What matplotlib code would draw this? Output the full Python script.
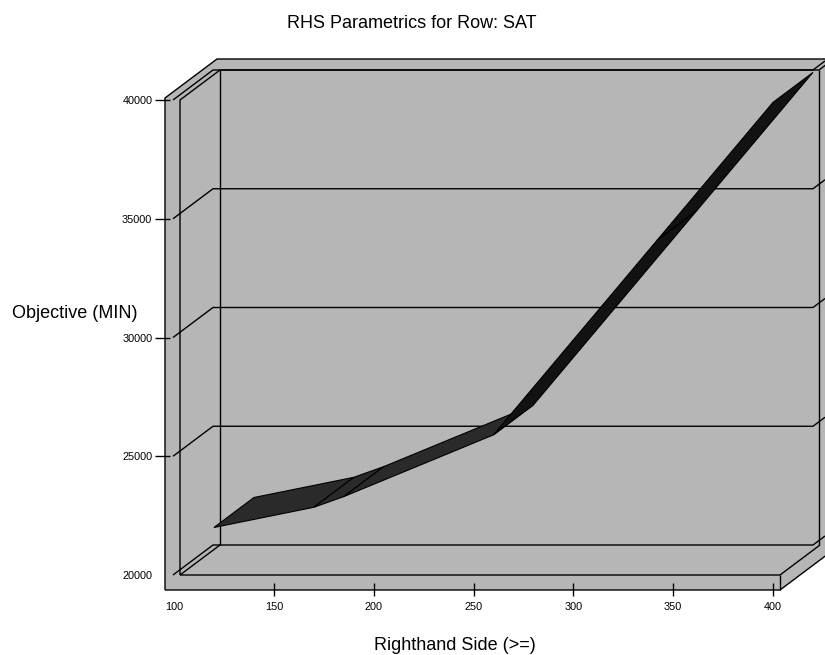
import matplotlib
matplotlib.use("Agg")
import matplotlib.pyplot as plt
from matplotlib.patches import Polygon

plt.rcParams['font.family'] = ['Liberation Sans', 'DejaVu Sans']

# breakpoints of the parametric run: right-hand side vs. objective value
rhs = [120, 170, 185, 260, 342, 400]
objective = [22000, 22850, 23300, 25900, 34100, 39900]

x_ticks = [100, 150, 200, 250, 300, 350, 400]
y_ticks = [20000, 25000, 30000, 35000, 40000]

title = "RHS Parametrics for Row: SAT"
x_label = "Righthand Side (>=)"
y_label = "Objective (MIN)"

wall = "#b6b6b6"
ribbon_flat = "#2a2a2a"
ribbon_steep = "#121212"

W, H = 825, 655
fig = plt.figure(figsize=(W / 100, H / 100), dpi=100)

# the axes box is the front plane of the 3-d frame (pixel edges)
left, right, top, bottom = 174, 773, 100, 575
ax = fig.add_axes([left / W, 1 - bottom / H, (right - left) / W, (bottom - top) / H])
x0, x1 = x_ticks[0], x_ticks[-1]
y0, y1 = y_ticks[0], y_ticks[-1]
ax.set_xlim(x0, x1)
ax.set_ylim(y0, y1)
ax.patch.set_visible(False)

# data units per pixel, and the screen offset of one unit of depth
ux = (x1 - x0) / (right - left)
uy = (y1 - y0) / (bottom - top)
DX, DY = 40 * ux, 30 * uy


def P(x, y, z=0.0, ox=0.0, oy=0.0):
    """3-d point -> data coords; ox/oy are extra pixel nudges."""
    return (x + z * DX + ox * ux, y + z * DY + oy * uy)


def seg(*pts, lw=1.0):
    xs, ys = zip(*pts)
    ax.plot(xs, ys, color="black", lw=lw, clip_on=False, zorder=2,
            solid_capstyle="butt")


# walls and floor
outline = [P(x0, y0, 0, -9, -15), P(x0, y1, 0, -9, 2), P(x0, y1, 1.3, -9, 2),
           P(x1, y1, 1.3, 7, 2), P(x1, y0, 1.3, 7, -15), P(x1, y0, 0, 7, -15)]
ax.add_patch(Polygon(outline, closed=True, facecolor=wall, edgecolor="none",
                     clip_on=False, zorder=0.5))

seg(P(x0, y0, 0, -9, -15), P(x0, y1, 0, -9, 2), P(x0, y1, 1.3, -9, 2),
    P(x1, y1, 1.3, 7, 2))
seg(P(x0, y0, 0, 6), P(x0, y1, 0, 6), P(x0, y1, 1, 6), P(x1, y1, 1, 6),
    P(x1, y1, 1.3, 6))
seg(P(x0, y1, 1, 6), P(x0, y0, 1, 6))
seg(P(x1, y1, 1, 6), P(x1, y0, 1, 6))
seg(P(x0, y0, 0, 6), P(x0, y0, 1, 6))
seg(P(x0, y0, 0, 6), P(x1, y0, 0, 7), P(x1, y0, 1, 7))
seg(P(x0, y0, 0, -9, -15), P(x1, y0, 0, 7, -15), P(x1, y0, 1.3, 7, -15))
seg(P(x1, y0, 0, 7), P(x1, y0, 0, 7, -15))

# gridlines run along the left wall, across the back wall and round its edge
for v in y_ticks:
    seg(P(x0, v, 0, -1), P(x0, v, 1, -1), P(x1, v, 1), P(x1, v, 1.3))

# ribbon, one strip per segment, drawn left to right
for i in range(len(rhs) - 1):
    xa, ya, xb, yb = rhs[i], objective[i], rhs[i + 1], objective[i + 1]
    slope = ((yb - ya) / uy) / ((xb - xa) / ux)
    color = ribbon_steep if slope > 0.8 else ribbon_flat
    strip = [P(xa, ya, 0), P(xb, yb, 0), P(xb, yb, 1), P(xa, ya, 1)]
    ax.add_patch(Polygon(strip, closed=True, facecolor=color,
                         edgecolor="black", lw=0.8, joinstyle="miter",
                         clip_on=False, zorder=3 + i * 0.01))

# axes: ticks sit on the outer faces of the left wall and floor
for s in ax.spines.values():
    s.set_visible(False)
ax.spines["left"].set_position(("outward", 9))
ax.spines["bottom"].set_position(("outward", 15))
ax.set_xticks(x_ticks)
ax.set_yticks(y_ticks)
ax.set_xticklabels([str(t) for t in x_ticks])
ax.set_yticklabels([str(t) for t in y_ticks])
ax.tick_params(axis="x", direction="in", length=9.4, width=1.0, pad=4.5,
               labelsize=7.8, top=False)
ax.tick_params(axis="y", direction="inout", length=10.8, width=1.0, pad=1.2,
               labelsize=7.8, right=False)
ax.xaxis.get_major_ticks()[0].tick1line.set_visible(False)
ax.yaxis.get_major_ticks()[0].tick1line.set_visible(False)

fig.text(412 / W, 1 - 23 / H, title, ha="center", va="center", fontsize=13)
fig.text(455 / W, 1 - 645 / H, x_label, ha="center", va="center", fontsize=13)
fig.text(75 / W, 1 - 313 / H, y_label, ha="center", va="center", fontsize=13)

fig.savefig("out.png", dpi=100, facecolor="white")
